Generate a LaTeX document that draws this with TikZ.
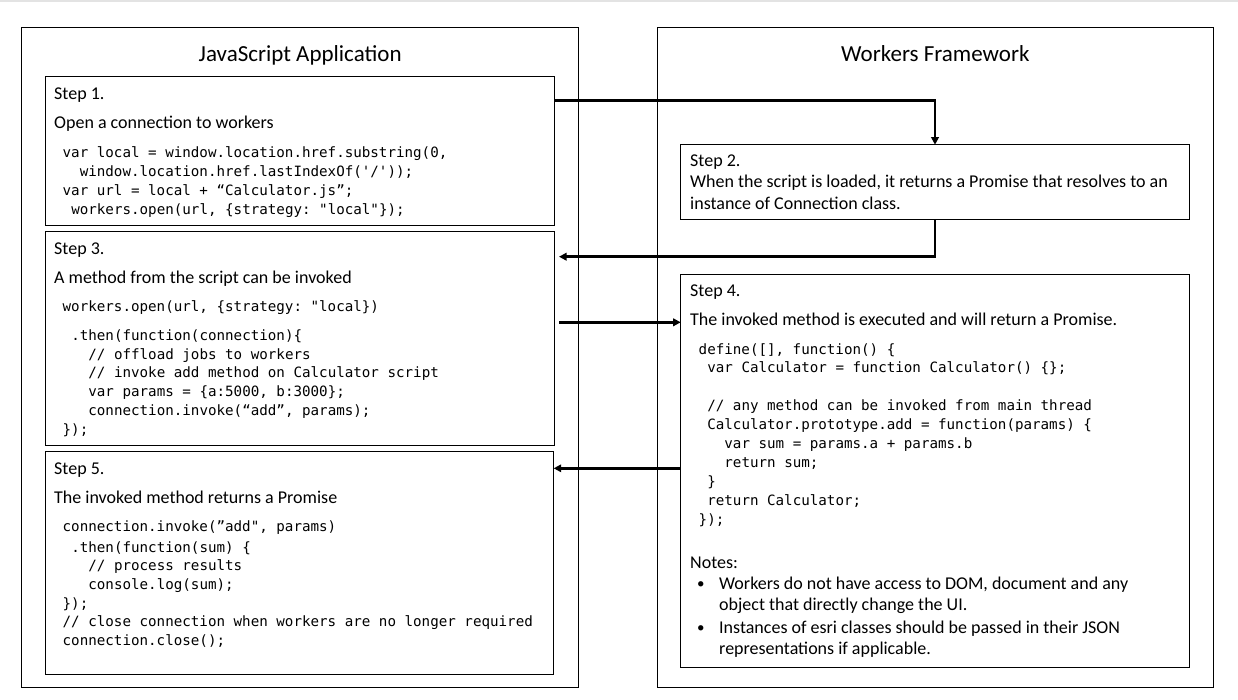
\documentclass[tikz,border=0pt]{standalone}
\usepackage{fontspec}
\setmainfont{Carlito}
\setmonofont{DejaVu Sans Mono}
\usetikzlibrary{arrows.meta,calc}
\tikzset{
  box/.style={draw, line width=1pt, inner sep=0pt, outer sep=0pt, anchor=north west},
  txt/.style={inner sep=0pt, anchor=base west, font=\fontsize{18}{21.5}\selectfont},
  bul/.style={inner sep=0pt, anchor=base west, font=\fontsize{15}{18}\selectfont},
  code/.style={inner sep=0pt, anchor=base west, font=\fontsize{14.2}{18.7}\ttfamily},
  ttl/.style={inner sep=0pt, anchor=base, font=\fontsize{23}{27}\selectfont},
  arr/.style={line width=2.6pt, -{Triangle[length=7.5pt,width=7.5pt]}}
}
\begin{document}
\begin{tikzpicture}[x=1pt,y=-1pt]
\useasboundingbox (0,0) rectangle (1238,699);
\fill[gray!22] (0,0) rectangle (1238,1.5);
% outer frames
\node[box, minimum width=557pt, minimum height=660pt] (L) at (21.7,27.3) {};
\node[box, minimum width=556pt, minimum height=660pt] (R) at (657.3,27.3) {};
\node[ttl] (Lt) at (300.2,61.5) {JavaScript Application};
\node[ttl] (Rt) at (935.3,61.5) {Workers Framework};
% step boxes
\node[box, minimum width=508.6pt, minimum height=148.7pt] (s1) at (45.7,76.3) {};
\node[box, minimum width=508.6pt, minimum height=213.3pt] (s3) at (45.7,231.7) {};
\node[box, minimum width=508pt, minimum height=222.3pt] (s5) at (45.7,451.7) {};
\node[box, minimum width=508.6pt, minimum height=74.3pt] (s2) at (680.7,144.7) {};
\node[box, minimum width=508.6pt, minimum height=393pt] (s4) at (680.7,274.2) {};
% Step 1
\node[txt] (t1a) at (54,99.3) {Step 1.};
\node[txt] (t1b) at (54,128.5) {Open a connection to workers};
\node[code] (c1a) at (62.5,157) {var local = window.location.href.substring(0,};
\node[code] (c1b) at (79.6,176) {window.location.href.lastIndexOf('/'));};
\node[code] (c1c) at (62.5,195) {var url = local + “Calculator.js”;};
\node[code] (c1d) at (71.1,214) {workers.open(url, \{strategy: "local"\});};
% Step 3
\node[txt] (t3a) at (54,254.5) {Step 3.};
\node[txt] (t3b) at (54,283) {A method from the script can be invoked};
\node[code] (c3a) at (62.5,311.5) {workers.open(url, \{strategy: "local\})};
\node[code] (c3b) at (71.1,340.5) {.then(function(connection)\{};
\node[code] (c3c) at (88.2,359.2) {// offload jobs to workers};
\node[code] (c3d) at (88.2,377.9) {// invoke add method on Calculator script};
\node[code] (c3e) at (88.2,396.6) {var params = \{a:5000, b:3000\};};
\node[code] (c3f) at (88.2,415.3) {connection.invoke(“add”, params);};
\node[code] (c3g) at (62.5,434) {\});};
% Step 5
\node[txt] (t5a) at (54,474.5) {Step 5.};
\node[txt] (t5b) at (54,503) {The invoked method returns a Promise};
\node[code] (c5a) at (62.5,531.5) {connection.invoke(”add", params)};
\node[code] (c5b) at (71.1,552) {.then(function(sum) \{};
\node[code] (c5c) at (88.2,570.7) {// process results};
\node[code] (c5d) at (88.2,589.4) {console.log(sum);};
\node[code] (c5e) at (62.5,608.1) {\});};
\node[code] (c5f) at (62.5,626.8) {// close connection when workers are no longer required};
\node[code] (c5g) at (62.5,645.5) {connection.close();};
% Step 2
\node[txt] (t2a) at (690,166) {Step 2.};
\node[txt] (t2b) at (690,187.5) {When the script is loaded, it returns a Promise that resolves to an};
\node[txt] (t2c) at (690,209) {instance of Connection class.};
% Step 4
\node[txt] (t4a) at (690,296.7) {Step 4.};
\node[txt] (t4b) at (690,325) {The invoked method is executed and will return a Promise.};
\node[code] (c4a) at (698.5,354) {define([], function() \{};
\node[code] (c4b) at (707.1,372.9) {var Calculator = function Calculator() \{\};};
\node[code] (c4c) at (707.1,410.7) {// any method can be invoked from main thread};
\node[code] (c4d) at (707.1,429.6) {Calculator.prototype.add = function(params) \{};
\node[code] (c4e) at (724.2,448.5) {var sum = params.a + params.b};
\node[code] (c4f) at (724.2,467.4) {return sum;};
\node[code] (c4g) at (707.1,486.3) {\}};
\node[code] (c4h) at (707.1,505.2) {return Calculator;};
\node[code] (c4i) at (698.5,524.1) {\});};
\node[txt] (n0) at (690,568) {Notes:};
\node[bul] (b1) at (697,588) {\textbullet};
\node[txt] (n1a) at (719,589) {Workers do not have access to DOM, document and any};
\node[txt] (n1b) at (719,610) {object that directly change the UI.};
\node[bul] (b2) at (697,632) {\textbullet};
\node[txt] (n2a) at (719,633) {Instances of esri classes should be passed in their JSON};
\node[txt] (n2b) at (719,654) {representations if applicable.};
% connectors
\coordinate (c12) at ($(s1.north east)+(0,24.4)$);
\draw[arr] (c12) -| (s2.north);
\coordinate (c23) at ($(s3.north east)+(4.7,25)$);
\draw[arr] (s2.south) |- (c23);
\coordinate (c34) at ($(s3.north east)+(4.7,90.6)$);
\draw[arr] (c34) -- (c34 -| s4.west);
\coordinate (c45) at ($(s4.north west)+(0,194.1)$);
\draw[arr] (c45) -- (c45 -| s5.east);
\end{tikzpicture}
\end{document}
